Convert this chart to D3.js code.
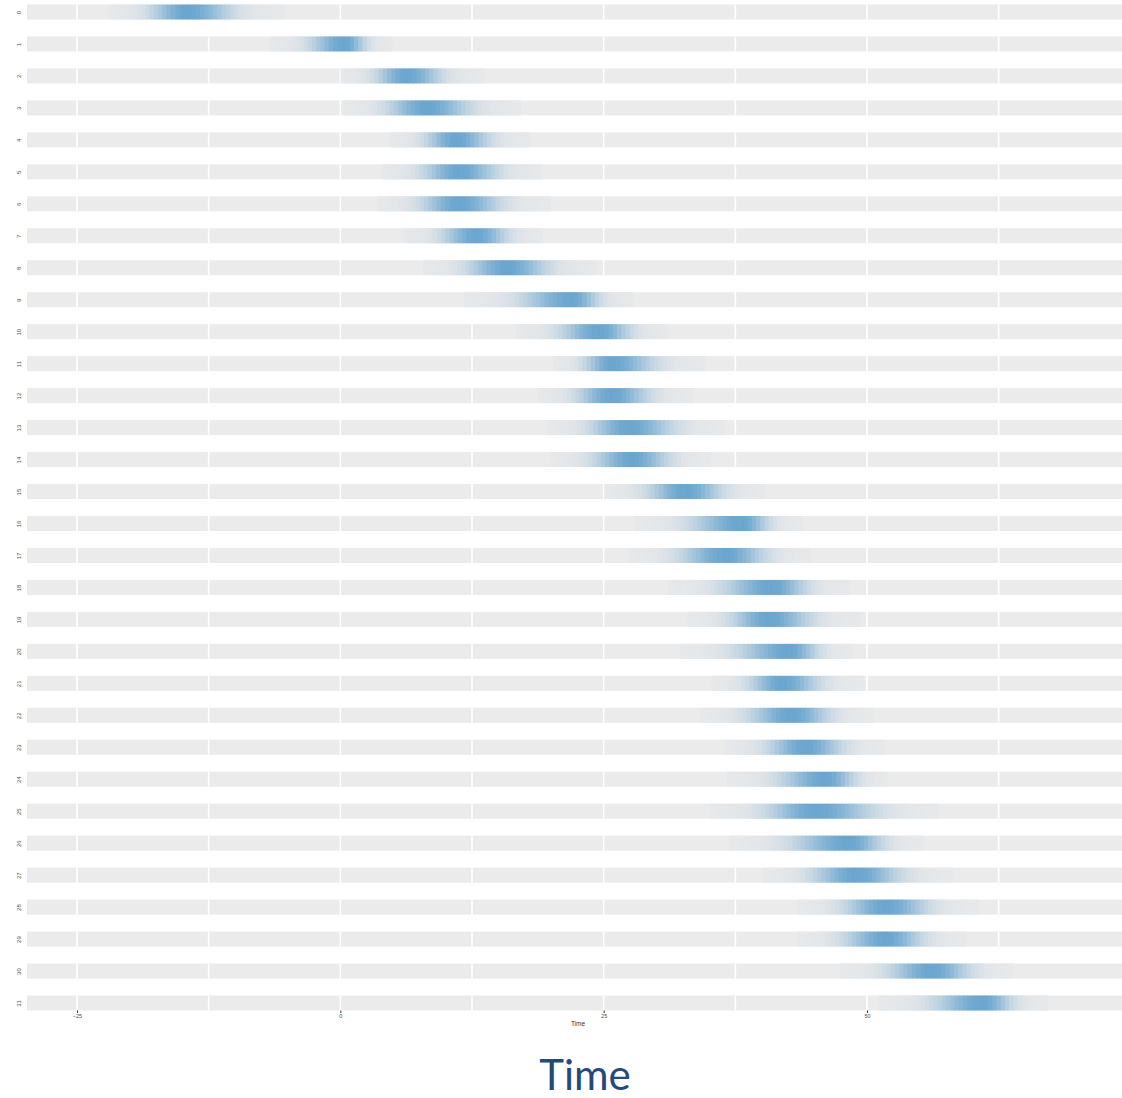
<!DOCTYPE html>
<html>
<head>
<meta charset="utf-8">
<script src="https://cdn.jsdelivr.net/npm/d3@7"></script>
<style>
  body { margin: 0; background: #fff; }
  svg { display: block; }
</style>
</head>
<body>
<div id="chart"></div>
<script>
// one row per sequence, labelled 0..31
const rowLabels = ['0','1','2','3','4','5','6','7','8','9','10','11','12','13','14','15',
                   '16','17','18','19','20','21','22','23','24','25','26','27','28','29','30','31'];
// mode of each row's time distribution
const peaks = [-14.5, 0.4, 6.3, 8.2, 11.0, 11.3, 11.3, 12.9, 15.8, 22.0, 24.6, 25.8, 25.8, 27.4, 27.7, 32.8,
               38.1, 36.6, 41.0, 40.7, 42.6, 42.0, 42.9, 44.2, 46.1, 45.2, 48.3, 49.0, 51.8, 51.8, 56.2, 61.0];
// where the blue visibly fades out on the left / right
const lows  = [-19.1, -3.9, 2.5, 3.4, 7.2, 6.8, 6.6, 8.7, 11.0, 15.8, 19.8, 22.4, 21.5, 22.7, 23.0, 28.1,
               31.9, 31.0, 35.0, 36.0, 36.3, 37.9, 37.6, 39.5, 40.4, 39.1, 41.4, 43.6, 46.7, 46.7, 50.9, 55.0];
const highs = [-9.1, 3.0, 10.6, 13.5, 15.1, 16.0, 16.3, 16.7, 20.8, 25.3, 28.4, 31.0, 30.3, 32.8, 32.2, 37.2,
               41.4, 41.4, 45.2, 45.8, 46.1, 46.4, 47.4, 48.6, 49.6, 52.1, 52.4, 54.3, 56.9, 56.2, 60.7, 64.5];
const xTicks = [-25, 0, 25, 50];
const xGrid = [-25, -12.5, 0, 12.5, 25, 37.5, 50, 62.5];

const W = 1122, H = 1098;
const panelLeft = 27, panelRight = 1122;
const stripH = 15;

const svg = d3.select('#chart').append('svg')
    .attr('width', W)
    .attr('height', H);

const x = d3.scaleLinear().domain([-25, 50]).range([77, 867]);
const y = d3.scalePoint().domain(rowLabels).range([12, 1003]);

const fill = d3.interpolateRgb('#e6e8ea', '#6aa6cf');

// band shape: fades to 0.1 of its peak at the low/high marks
const shapeP = 2.1;
const edgeK = Math.pow(-Math.log(0.1), 1 / shapeP);

const rows = rowLabels.map((lab, i) => ({
    label: lab, peak: peaks[i], lo: lows[i], hi: highs[i]
}));

const step = 0.4;

const row = svg.selectAll('.row')
    .data(rows)
    .enter().append('g')
    .attr('class', 'row')
    .attr('transform', d => 'translate(0,' + (y(d.label) - stripH / 2) + ')');

// grey strip
row.append('rect')
    .attr('x', panelLeft)
    .attr('width', panelRight - panelLeft)
    .attr('height', stripH)
    .attr('fill', '#ebebeb');

// white grid lines
row.selectAll('.grid')
    .data(xGrid)
    .enter().append('line')
    .attr('x1', d => x(d)).attr('x2', d => x(d))
    .attr('y1', 0).attr('y2', stripH)
    .attr('stroke', '#fff')
    .attr('stroke-width', 1.6);

// density tiles
row.each(function (d) {
    const sl = (d.peak - d.lo) / edgeK;
    const sr = (d.hi - d.peak) / edgeK;
    const from = d.peak - 1.65 * (d.peak - d.lo);
    const to = d.peak + 1.65 * (d.hi - d.peak);
    const tiles = d3.range(from, to, step).map(t => {
        const c = t + step / 2;
        const s = c < d.peak ? sl : sr;
        return { t: t, v: Math.exp(-Math.pow(Math.abs(c - d.peak) / s, shapeP)) };
    });
    d3.select(this).selectAll('.tile')
        .data(tiles)
        .enter().append('rect')
        .attr('x', e => x(e.t))
        .attr('width', x(step) - x(0) + 0.6)
        .attr('height', stripH)
        .attr('fill', e => fill(e.v));
});

// x axis
const xAxis = svg.append('g')
    .attr('transform', 'translate(0,' + (y('31') + stripH / 2) + ')')
    .call(d3.axisBottom(x).tickValues(xTicks).tickSize(2.5).tickPadding(1));
xAxis.select('.domain').remove();
xAxis.selectAll('line').attr('stroke', '#333');
xAxis.selectAll('text')
    .attr('font-family', 'Liberation Sans, Arial, sans-serif')
    .attr('font-size', 5.5)
    .attr('fill', '#4d4d4d');

svg.append('text')
    .attr('x', 578)
    .attr('y', 1026)
    .attr('text-anchor', 'middle')
    .attr('font-family', 'Liberation Sans, Arial, sans-serif')
    .attr('font-size', 6.5)
    .attr('fill', '#333')
    .text('Time');

// y axis, labels read upward
const yAxis = svg.append('g')
    .attr('transform', 'translate(' + panelLeft + ',0)')
    .call(d3.axisLeft(y).tickSize(0));
yAxis.select('.domain').remove();
yAxis.selectAll('text')
    .attr('transform', 'rotate(-90)')
    .attr('text-anchor', 'middle')
    .attr('x', 0)
    .attr('y', -8)
    .attr('dy', '0.35em')
    .attr('font-family', 'Liberation Sans, Arial, sans-serif')
    .attr('font-size', 6)
    .attr('fill', '#4d4d4d');

// big caption
svg.append('text')
    .attr('x', 585)
    .attr('y', 1090)
    .attr('text-anchor', 'middle')
    .attr('font-family', 'Lato, sans-serif')
    .attr('font-size', 42)
    .attr('fill', '#23497d')
    .text('Time');
</script>
</body>
</html>
